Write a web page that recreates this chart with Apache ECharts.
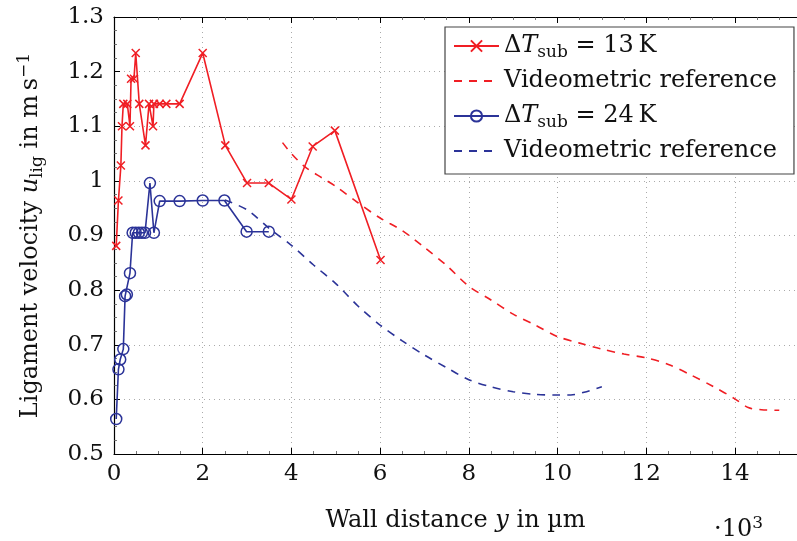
<!DOCTYPE html>
<html>
<head>
<meta charset="utf-8">
<script src="https://cdn.jsdelivr.net/npm/echarts@6/dist/echarts.min.js"></script>
<style>html,body{margin:0;padding:0;background:#fff}#c{width:797px;height:541px}</style>
</head>
<body>
<div id="c"></div>
<script>
// ΔT_sub = 13 K measurements
const red13X = [0.05,0.1,0.155,0.18,0.21,0.3,0.36,0.385,0.45,0.49,0.57,0.71,0.79,0.88,0.9,1.03,1.18,1.48,2.0,2.51,3.0,3.49,4.0,4.48,4.98,6.01];
const red13Y = [0.881,0.964,1.028,1.100,1.141,1.141,1.100,1.187,1.187,1.234,1.141,1.065,1.141,1.100,1.141,1.141,1.141,1.141,1.234,1.065,0.996,0.996,0.966,1.063,1.092,0.855];
// Videometric reference for 13 K
const ref13X = [3.8,4.0,4.3,4.7,5.0,5.5,6.0,6.5,7.0,7.5,8.0,8.5,9.0,9.5,10.0,10.5,11.0,11.5,12.0,12.5,13.0,13.5,14.0,14.3,14.6,15.0];
const ref13Y = [1.07,1.05,1.026,1.005,0.99,0.96,0.932,0.909,0.878,0.845,0.807,0.782,0.756,0.736,0.715,0.703,0.692,0.683,0.676,0.664,0.645,0.624,0.601,0.585,0.581,0.580];
// ΔT_sub = 24 K measurements
const blue24X = [0.05,0.1,0.14,0.21,0.25,0.29,0.36,0.42,0.49,0.56,0.63,0.7,0.81,0.9,1.03,1.48,2.0,2.49,2.99,3.49];
const blue24Y = [0.564,0.655,0.673,0.692,0.789,0.792,0.831,0.905,0.905,0.905,0.905,0.905,0.996,0.905,0.963,0.963,0.964,0.964,0.907,0.907];
// Videometric reference for 24 K
const ref24X = [2.5,3.0,3.5,4.0,4.5,5.0,5.5,6.0,6.5,7.0,7.5,8.0,8.5,9.0,9.5,10.0,10.3,10.6,11.0];
const ref24Y = [0.965,0.947,0.913,0.882,0.846,0.812,0.771,0.736,0.707,0.681,0.658,0.636,0.623,0.614,0.609,0.608,0.608,0.613,0.623];

const xTicks = {min:0, max:15.4, interval:2};
const yTicks = {min:0.5, max:1.3, interval:0.1};

const RED = '#f01e24';
const BLUE = '#2b3398';
const FONT = 'DejaVu Serif';

const zip = (xs, ys) => xs.map((x, i) => [x, ys[i]]);

const rich = {
  it:  {fontFamily: FONT, fontSize: 24, fontStyle: 'italic', lineHeight: 30, color: '#111'},
  sub: {fontFamily: FONT, fontSize: 17, lineHeight: 17, verticalAlign: 'bottom', color: '#111'},
  sup: {fontFamily: FONT, fontSize: 17, lineHeight: 17, verticalAlign: 'top', color: '#111'}
};

const legendNames = {
  m13: '\u0394{it|T}{sub|sub} = 13\u2009K',
  r13: 'Videometric reference',
  m24: '\u0394{it|T}{sub|sub} = 24\u2009K',
  r24: 'Videometric reference'
};
const noMarker = {color: 'rgba(0,0,0,0)', borderWidth: 0, opacity: 0};

const chart = echarts.init(document.getElementById('c'), null, {renderer: 'canvas'});
const tickStyle = {color: '#000', width: 1};
chart.setOption({
  animation: false,
  backgroundColor: '#fff',
  grid: {left: 114, right: -6, top: 17, bottom: 82, containLabel: false},
  xAxis: [{
    type: 'value', min: xTicks.min, max: xTicks.max, interval: xTicks.interval,
    position: 'bottom',
    name: 'Wall distance {it|y} in \u00b5m',
    nameLocation: 'middle', nameGap: 52,
    nameTextStyle: {fontFamily: FONT, fontSize: 24, color: '#111', lineHeight: 30, rich: rich},
    axisLine: {show: true, onZero: false, lineStyle: {color: '#000', width: 1.2}},
    axisTick: {show: true, inside: true, length: 6, lineStyle: tickStyle},
    minorTick: {show: true, splitNumber: 4, length: 3, lineStyle: {color: '#555', width: 0.8}},
    axisLabel: {fontFamily: FONT, fontSize: 23, color: '#111', margin: 9, showMaxLabel: false},
    splitLine: {show: true, lineStyle: {type: [1, 4], color: '#aaa', width: 1}}
  }, {
    type: 'value', min: xTicks.min, max: xTicks.max, interval: xTicks.interval,
    position: 'top',
    axisLine: {show: true, onZero: false, lineStyle: {color: '#000', width: 1.2}},
    axisTick: {show: true, inside: true, length: 6, lineStyle: tickStyle},
    minorTick: {show: true, splitNumber: 4, length: 3, lineStyle: {color: '#555', width: 0.8}},
    axisLabel: {show: false},
    splitLine: {show: false}
  }],
  yAxis: [{
    type: 'value', min: yTicks.min, max: yTicks.max, interval: yTicks.interval,
    name: 'Ligament velocity {it|u}{sub|lig} in m\u2009s{sup|\u22121}',
    nameLocation: 'middle', nameGap: 68, nameRotate: 90,
    nameTextStyle: {fontFamily: FONT, fontSize: 24, color: '#111', lineHeight: 30, rich: rich},
    axisLine: {show: true, onZero: false, lineStyle: {color: '#000', width: 1.2}},
    axisTick: {show: true, inside: true, length: 6, lineStyle: tickStyle},
    minorTick: {show: true, splitNumber: 4, length: 3, lineStyle: {color: '#555', width: 0.8}},
    axisLabel: {fontFamily: FONT, fontSize: 23, color: '#111', margin: 10},
    splitLine: {show: true, lineStyle: {type: [1, 4], color: '#aaa', width: 1}}
  }],
  legend: {
    orient: 'vertical', left: 445, top: 27,
    backgroundColor: '#fff', borderColor: '#444', borderWidth: 1.2, borderRadius: 0,
    padding: [4, 17, 8, 8],
    itemWidth: 45, itemHeight: 14, itemGap: 5,
    textStyle: {fontFamily: FONT, fontSize: 24, color: '#111', lineHeight: 30, rich: rich},
    formatter: name => legendNames[name],
    data: [
      {name: 'm13'},
      {name: 'r13', itemStyle: noMarker},
      {name: 'm24'},
      {name: 'r24', itemStyle: noMarker}
    ]
  },
  graphic: [{
    type: 'text', left: 714, top: 515,
    style: {text: '\u00b710{sup|3}', fontFamily: FONT, fontSize: 24, lineHeight: 30, fill: '#111', rich: rich}
  }],
  series: [{
    name: 'm13', type: 'line', data: zip(red13X, red13Y),
    symbol: 'path://M0,0L10,10M0,10L10,0', symbolSize: 8,
    lineStyle: {color: RED, width: 1.6},
    itemStyle: {color: 'none', borderColor: RED, borderWidth: 1.5},
    z: 4
  }, {
    name: 'r13', type: 'line', data: zip(ref13X, ref13Y), smooth: 0.3,
    symbol: 'none',
    lineStyle: {color: RED, width: 1.6, type: [8, 7]},
    itemStyle: {color: RED},
    z: 3
  }, {
    name: 'm24', type: 'line', data: zip(blue24X, blue24Y),
    symbol: 'circle', symbolSize: 11,
    lineStyle: {color: BLUE, width: 1.6},
    itemStyle: {color: 'rgba(255,255,255,0)', borderColor: BLUE, borderWidth: 1.5},
    z: 4
  }, {
    name: 'r24', type: 'line', data: zip(ref24X, ref24Y), smooth: 0.3,
    symbol: 'none',
    lineStyle: {color: BLUE, width: 1.6, type: [8, 7]},
    itemStyle: {color: BLUE},
    z: 3
  }]
});
</script>
</body>
</html>
